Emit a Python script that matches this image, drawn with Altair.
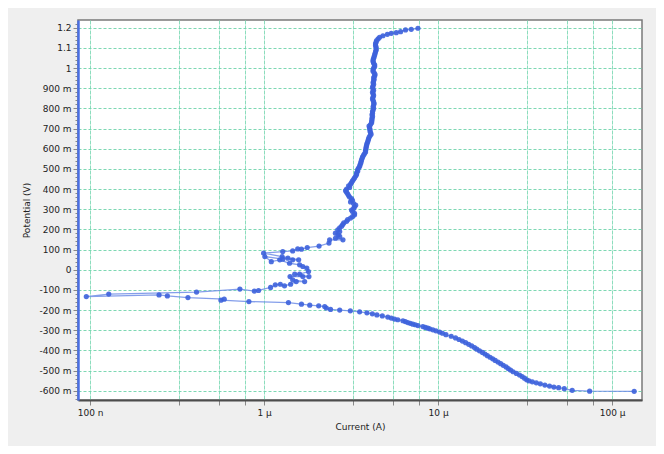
import altair as alt
import pandas as pd
import math

# ---------------- data ----------------
cathodic_V = [-0.603, -0.602, -0.598, -0.590, -0.585, -0.582, -0.577, -0.572, -0.566, -0.561,
              -0.556, -0.551, -0.546, -0.538, -0.530, -0.522, -0.514, -0.506, -0.498, -0.490,
              -0.482, -0.474, -0.466, -0.458, -0.450, -0.442, -0.434, -0.426, -0.418, -0.410,
              -0.402, -0.394, -0.386, -0.378, -0.370, -0.362, -0.354, -0.346, -0.338, -0.330,
              -0.322, -0.315, -0.309, -0.303, -0.298, -0.293, -0.290, -0.286, -0.282, -0.277,
              -0.273, -0.270, -0.266, -0.262, -0.257, -0.253, -0.248, -0.245, -0.240, -0.235,
              -0.229, -0.224, -0.219, -0.214, -0.209, -0.204, -0.200, -0.197, -0.190, -0.183,
              -0.179, -0.176, -0.171, -0.163]
cathodic_uA = [134, 74.3, 59.0, 53.1, 49.3, 46.3, 43.7, 41.1, 38.7, 36.7,
               34.8, 33.3, 32.3, 31.4, 30.4, 29.4, 28.2, 27.0, 26.1, 25.3,
               24.6, 23.7, 22.9, 22.1, 21.3, 20.6, 19.9, 19.2, 18.6, 18.0,
               17.3, 16.7, 16.2, 15.6, 15.0, 14.4, 13.8, 13.2, 12.6, 11.9,
               11.1, 10.6, 10.2, 9.72, 9.33, 8.95, 8.73, 8.45, 8.18, 7.66,
               7.40, 7.16, 6.92, 6.70, 6.48, 6.28, 5.87, 5.62, 5.38, 5.14,
               4.78, 4.45, 4.19, 3.90, 3.54, 3.13, 2.72, 2.41, 2.28, 2.23,
               2.06, 1.83, 1.64, 1.38]

ecorr_V = [-0.158, -0.151, -0.146, -0.138, -0.130, -0.125, -0.133, -0.121, -0.111, -0.096,
           -0.106, -0.103, -0.088, -0.075, -0.072, -0.080, -0.072, -0.059, -0.059, -0.050,
           -0.034, -0.034, -0.034, -0.022, -0.022, -0.009, 0.008, 0.016, 0.024, 0.032,
           0.049, 0.040, 0.065, 0.052, 0.057, 0.049, 0.049, 0.065, 0.082, 0.090,
           0.093, 0.103, 0.102, 0.110, 0.117, 0.132, 0.148, 0.148, 0.156, 0.165,
           0.173, 0.181, 0.189, 0.198]
ecorr_uA = [0.818, 0.565, 0.590, 0.365, 0.278, 0.249, 0.0951, 0.128, 0.409, 0.726,
            0.879, 0.929, 1.09, 1.16, 1.24, 1.31, 1.42, 1.53, 1.71, 1.46,
            1.41, 1.67, 1.81, 1.50, 1.60, 1.80, 1.76, 1.67, 1.60, 1.40,
            1.23, 1.10, 1.01, 1.28, 1.37, 1.46, 1.58, 1.27, 0.994, 1.28,
            1.46, 1.56, 1.64, 1.77, 2.07, 2.36, 2.38, 2.84, 2.57, 2.72,
            2.66, 2.57, 2.72, 2.65]

passive_V = [0.208, 0.216, 0.224, 0.232, 0.240, 0.248, 0.256, 0.264, 0.272, 0.280,
             0.288, 0.296, 0.304, 0.312, 0.320, 0.328, 0.336, 0.344, 0.352, 0.360,
             0.368, 0.376, 0.384, 0.392, 0.400, 0.408, 0.416, 0.424, 0.432, 0.440,
             0.448, 0.456, 0.464, 0.472, 0.480, 0.488, 0.496, 0.504, 0.512, 0.520,
             0.528, 0.536, 0.544, 0.552, 0.560, 0.568, 0.576, 0.584, 0.592, 0.600,
             0.608, 0.616, 0.624, 0.632, 0.640, 0.648, 0.656, 0.664, 0.672, 0.680,
             0.688, 0.696, 0.704, 0.712, 0.720, 0.728, 0.736, 0.744, 0.752, 0.760,
             0.768, 0.776, 0.784, 0.792, 0.800, 0.808, 0.816, 0.824, 0.832, 0.840,
             0.848, 0.856, 0.864, 0.872, 0.880, 0.888, 0.896, 0.904, 0.912, 0.920,
             0.928, 0.936, 0.944, 0.952, 0.960, 0.968, 0.976, 0.984, 0.992, 1.000,
             1.008, 1.016, 1.024, 1.032, 1.040, 1.048, 1.056, 1.064, 1.072, 1.080,
             1.088, 1.096, 1.104, 1.112, 1.120, 1.128, 1.136]
passive_uA = [2.72, 2.79, 2.83, 2.87, 2.98, 3.02, 3.14, 3.23, 3.31, 3.31,
              3.22, 3.18, 3.27, 3.31, 3.36, 3.27, 3.14, 3.22, 3.18, 3.10,
              3.06, 3.02, 2.98, 2.94, 2.98, 3.10, 3.06, 3.14, 3.18, 3.22,
              3.27, 3.31, 3.36, 3.40, 3.40, 3.45, 3.45, 3.49, 3.54, 3.56,
              3.59, 3.61, 3.63, 3.66, 3.68, 3.73, 3.78, 3.83, 3.83, 3.85,
              3.86, 3.88, 3.90, 3.93, 3.96, 3.98, 4.01, 4.06, 4.12, 4.09,
              4.06, 4.06, 4.04, 4.01, 4.09, 4.15, 4.15, 4.17, 4.17, 4.20,
              4.17, 4.20, 4.20, 4.23, 4.26, 4.23, 4.26, 4.29, 4.26, 4.23,
              4.20, 4.23, 4.26, 4.23, 4.20, 4.26, 4.23, 4.20, 4.23, 4.26,
              4.23, 4.26, 4.29, 4.26, 4.32, 4.34, 4.29, 4.23, 4.23, 4.26,
              4.32, 4.32, 4.26, 4.23, 4.23, 4.26, 4.29, 4.32, 4.34, 4.37,
              4.40, 4.41, 4.40, 4.37, 4.37, 4.40, 4.43]

top_V = [1.144, 1.152, 1.160, 1.167, 1.172, 1.175, 1.180, 1.189, 1.192, 1.197]
top_uA = [4.52, 4.61, 4.82, 5.11, 5.38, 5.75, 6.09, 6.50, 7.01, 7.66]

# axis ticks / labels
x_label_values = [1e-7, 1e-6, 1e-5, 1e-4]
x_labels = ["100 n", "1 µ", "10 µ", "100 µ"]
x_grid_multipliers = [3.25, 5.5, 7.75]

y_label_values = [-0.6, -0.5, -0.4, -0.3, -0.2, -0.1, 0.0, 0.1, 0.2, 0.3,
                  0.4, 0.5, 0.6, 0.7, 0.8, 0.9, 1.0, 1.1, 1.2]
y_labels = ["-600 m", "-500 m", "-400 m", "-300 m", "-200 m", "-100 m", "0", "100 m",
            "200 m", "300 m", "400 m", "500 m", "600 m", "700 m", "800 m", "900 m",
            "1", "1.1", "1.2"]

# ---------------- build table ----------------
segs = [(cathodic_V, cathodic_uA), (ecorr_V, ecorr_uA), (passive_V, passive_uA), (top_V, top_uA)]
V_all, I_all = [], []
for v, i in segs:
    assert len(v) == len(i), (len(v), len(i))
    V_all += v
    I_all += [c * 1e-6 for c in i]
df = pd.DataFrame({"idx": range(len(V_all)), "V": V_all, "I": I_all})

# x axis tick values (decades + minor grid)
x_values = []
for d in x_label_values:
    x_values.append(d)
    if d < 1e-4:
        x_values += [d * m for m in x_grid_multipliers]
x_values = sorted(x_values)

x_expr = "''"
for v, lab in reversed(list(zip(x_label_values, x_labels))):
    x_expr = f"abs(log(datum.value)/LN10 - ({math.log10(v):.4f})) < 0.01 ? '{lab}' : {x_expr}"

y_expr = "''"
for v, lab in reversed(list(zip(y_label_values, y_labels))):
    y_expr = f"abs(datum.value - ({v})) < 0.005 ? '{lab}' : {y_expr}"

y_tick_values = [round(-0.64 + 0.02 * k, 2) for k in range(94)]
major_test = "abs(datum.value*10 - round(datum.value*10)) < 0.01"

FONT = "DejaVu Sans"

x_enc = alt.X(
    "I:Q",
    scale=alt.Scale(type="log", domain=[8.52e-8, 1.486e-4], nice=False),
    axis=alt.Axis(
        title="Current (A)", values=x_values, labelExpr=x_expr,
        grid=True, gridColor="#7fd9b6", gridDash=[4, 1], gridWidth=1, gridOpacity=0.9,
        tickSize=5, tickColor="#888888", labelPadding=3,
        domainColor="#4d4d4d", domainWidth=2, titlePadding=5,
        labelFlush=False,
    ),
)
y_enc = alt.Y(
    "V:Q",
    scale=alt.Scale(domain=[-0.646, 1.238], nice=False, zero=False),
    axis=alt.Axis(
        title="Potential (V)", values=y_tick_values, labelExpr=y_expr,
        grid=True, gridColor="#6fd4ab", gridDash=[3, 2], gridWidth=1,
        gridOpacity={"condition": {"test": major_test, "value": 0.9}, "value": 0},
        tickSize={"condition": {"test": major_test, "value": 5}, "value": 3},
        tickColor="#888888", labelPadding=2,
        domainColor="#4a6fe3", domainWidth=2.5, titlePadding=7,
        labelFlush=False,
    ),
)

base = alt.Chart(df).encode(x=x_enc, y=y_enc, order=alt.Order("idx:Q"))

line = base.mark_line(color="#6f8de6", strokeWidth=1.3, opacity=0.85)
pts = base.mark_circle(size=27, color="#3d62dc", opacity=0.9)

chart = (
    alt.layer(line, pts)
    .properties(
        width=564, height=380,
        autosize=alt.AutoSizeParams(type="none"),
        padding={"left": 70, "top": 12, "right": 14, "bottom": 46},
        background="#efefef",
    )
    .configure_view(stroke="#7a7a7a", strokeWidth=1.5, fill="white")
    .configure_axis(
        labelFont=FONT, labelFontSize=9, labelColor="#222222",
        titleFont=FONT, titleFontSize=9, titleColor="#222222", titleFontWeight="normal",
    )
)

chart.save("out.html", embed_options={"renderer": "svg", "actions": False})
